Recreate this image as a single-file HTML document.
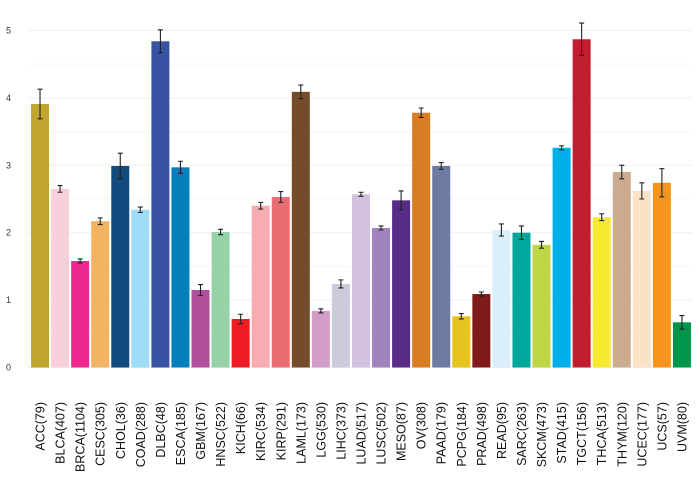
<!DOCTYPE html>
<html><head><meta charset="utf-8"><style>
body{margin:0;background:#fff}
svg{display:block;font-family:"Liberation Sans",sans-serif}
</style></head><body>
<svg id="chart" width="700" height="480"></svg>
<script>
const categories=["ACC(79)","BLCA(407)","BRCA(1104)","CESC(305)","CHOL(36)","COAD(288)","DLBC(48)","ESCA(185)","GBM(167)","HNSC(522)","KICH(66)","KIRC(534)","KIRP(291)","LAML(173)","LGG(530)","LIHC(373)","LUAD(517)","LUSC(502)","MESO(87)","OV(308)","PAAD(179)","PCPG(184)","PRAD(498)","READ(95)","SARC(263)","SKCM(473)","STAD(415)","TGCT(156)","THCA(513)","THYM(120)","UCEC(177)","UCS(57)","UVM(80)"];
const values=[3.91,2.65,1.58,2.17,2.99,2.34,4.84,2.97,1.15,2.01,0.72,2.40,2.53,4.09,0.84,1.24,2.57,2.07,2.48,3.78,2.99,0.76,1.09,2.04,2.00,1.82,3.26,4.87,2.23,2.90,2.62,2.74,0.67];
const errors=[0.22,0.05,0.03,0.05,0.19,0.04,0.17,0.09,0.08,0.04,0.07,0.05,0.08,0.10,0.03,0.06,0.03,0.03,0.14,0.07,0.05,0.04,0.03,0.09,0.10,0.05,0.03,0.24,0.05,0.10,0.12,0.21,0.10];
const colors=["#c0a631","#f9d0d9","#ec288f","#f4b263","#124b7d","#9edcf7","#3853a2","#0380b9","#b0509c","#97d1a8","#ed1c24","#f6acb0","#e96e74","#754c29","#d49dc8","#cbcbdc","#d2c1de","#a183bd","#572b86","#d87d24","#6d7ba2","#e7c31f","#7e1a1a","#daeffa","#00a79d","#bcd645","#00aeea","#be1e2d","#f5ea31","#cdab8e","#fbe2c6","#f7941e","#00954a"];
const yTicks=[0,1,2,3,4,5];
const svg=document.getElementById('chart');
const NS="http://www.w3.org/2000/svg";
const y0=367.5,unit=67.4,x0=30,pitch=20.06,bw=18;
const yScale=v=>y0-v*unit;
const xScale=i=>x0+i*pitch+pitch/2;
function mk(t,a){const e=document.createElementNS(NS,t);for(const k in a)e.setAttribute(k,a[k]);svg.appendChild(e);return e;}
for(let v=0;v<=5;v+=0.5){
 const g=mk('line',{x1:28,x2:692,y1:yScale(v),y2:yScale(v),stroke:v%1?'#f7f7f7':'#f0f0f0','stroke-width':1});
 
 
}
yTicks.forEach(v=>{
 const t=mk('text',{x:11,y:yScale(v)+3,'text-anchor':'end','font-size':9,fill:'#333'});
 t.textContent=v;
 
 
});
categories.forEach((c,i)=>{
 const cx=xScale(i),v=values[i],e=errors[i];
 const r=mk('rect',{x:cx-bw/2,y:yScale(v),width:bw,height:y0-yScale(v),fill:colors[i]});
 
 
 const ep=`M${cx},${yScale(v+e)}V${yScale(v-e)}M${cx-2.5},${yScale(v+e)}h5M${cx-2.5},${yScale(v-e)}h5`;
 const p=mk('path',{d:ep,stroke:'#222',fill:'none','stroke-width':1.1});
 
 
 const t=mk('text',{x:0,y:0,'text-anchor':'end','font-size':12.5,fill:'#111',transform:`translate(${cx+4.5},402) rotate(-90)`});
 t.textContent=c;
 
 
});
</script>
</body></html>
